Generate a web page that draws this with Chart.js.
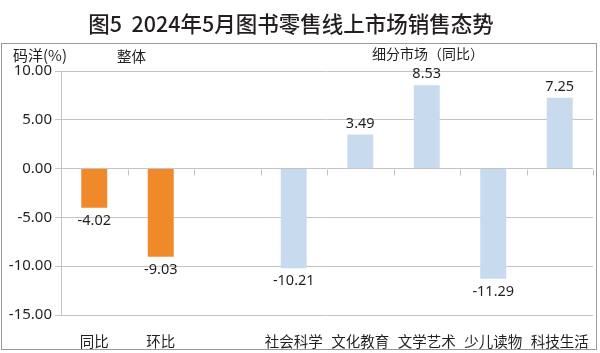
<!DOCTYPE html>
<html>
<head>
<meta charset="utf-8">
<script src="https://cdn.jsdelivr.net/npm/chart.js@4"></script>
<style>
  html, body { margin: 0; padding: 0; background: #fff; }
  #wrap { width: 600px; height: 353px; }
</style>
</head>
<body>
<div id="wrap"><canvas id="myChart" width="600" height="353"></canvas></div>
<script>
// data
const categories = ['同比', '环比', '', '社会科学', '文化教育', '文学艺术', '少儿读物', '科技生活'];
const values = [-4.02, -9.03, null, -10.21, 3.49, 8.53, -11.29, 7.25];
const groups = ['overall', 'overall', '', 'segment', 'segment', 'segment', 'segment', 'segment'];
const yTicks = [-15, -10, -5, 0, 5, 10];

const titleText = '图5  2024年5月图书零售线上市场销售态势';
const yTitle = '码洋(%)';
const leftGroupText = '整体';
const rightGroupText = '细分市场（同比）';

const ORANGE = '#f0892a';
const BLUE = '#c8dbee';
const GRID = '#c4c4c4';
const TEXT = '#231f20';
const CJK = '"Noto Sans CJK SC", "Noto Sans", sans-serif';
const NUM = '"Noto Sans", "Open Sans", sans-serif';

// draws title, frame, group notes, value labels and the little ticks on the zero line
const decorations = {
  id: 'decorations',
  afterDraw(chart) {
    const ctx = chart.ctx;
    const x = chart.scales.x;
    const y = chart.scales.y;
    ctx.save();

    // frame
    ctx.strokeStyle = '#9a9a9a';
    ctx.lineWidth = 1;
    ctx.strokeRect(1.5, 43.5, 595, 306);

    // title
    ctx.fillStyle = TEXT;
    ctx.font = '500 21.5px ' + CJK;
    ctx.textAlign = 'center';
    ctx.textBaseline = 'middle';
    ctx.fillText(titleText, 291, 24);

    // small notes
    ctx.textAlign = 'left';
    ctx.font = '15px ' + CJK;
    ctx.fillText(yTitle, 13, 55);
    ctx.font = '14.5px ' + CJK;
    ctx.fillText(leftGroupText, 117, 56);
    ctx.font = '14px ' + CJK;
    ctx.fillText(rightGroupText, 372, 54);

    // ticks on the zero line at category boundaries
    const y0 = Math.round(y.getPixelForValue(0)) + 0.5;
    const step = x.getPixelForValue(1) - x.getPixelForValue(0);
    ctx.strokeStyle = GRID;
    ctx.beginPath();
    for (let i = 0; i < categories.length; i++) {
      const bx = Math.round(x.getPixelForValue(i) + step / 2) + 0.5;
      ctx.moveTo(bx, y0);
      ctx.lineTo(bx, y0 + 6);
    }
    ctx.stroke();

    // value labels
    ctx.fillStyle = TEXT;
    ctx.font = '14.5px ' + NUM;
    ctx.textAlign = 'center';
    ctx.textBaseline = 'alphabetic';
    const meta = chart.getDatasetMeta(0);
    meta.data.forEach((bar, i) => {
      const v = values[i];
      if (v === null) return;
      if (v < 0) {
        ctx.fillText(v.toFixed(2), bar.x, bar.y + 17);
      } else {
        ctx.fillText(v.toFixed(2), bar.x, bar.y - 7);
      }
    });
    ctx.restore();
  }
};

const ctx = document.getElementById('myChart').getContext('2d');
const myChart = new Chart(ctx, {
  type: 'bar',
  data: {
    labels: categories,
    datasets: [{
      data: values,
      backgroundColor: groups.map(g => g === 'overall' ? ORANGE : BLUE),
      borderWidth: 0,
      categoryPercentage: 1,
      barPercentage: 0.39
    }]
  },
  options: {
    responsive: false,
    animation: false,
    layout: { padding: { top: 71, right: 7, left: 0, bottom: 0 } },
    plugins: {
      legend: { display: false },
      tooltip: { enabled: false }
    },
    scales: {
      x: {
        afterFit: (scale) => { scale.height = 38; },
        grid: { display: false },
        border: { display: false },
        ticks: {
          autoSkip: false,
          maxRotation: 0,
          padding: 10,
          color: TEXT,
          font: { size: 14.5, family: CJK }
        }
      },
      y: {
        min: -15,
        max: 10,
        afterBuildTicks: (scale) => {
          scale.ticks = yTicks.map(v => ({ value: v }));
        },
        afterFit: (scale) => { scale.width = 61; },
        grid: { color: GRID, tickLength: 6 },
        border: { color: GRID },
        ticks: {
          padding: 3,
          color: TEXT,
          font: { size: 15, family: NUM },
          callback: (v) => v.toFixed(2)
        }
      }
    }
  },
  plugins: [decorations]
});
</script>
</body>
</html>
